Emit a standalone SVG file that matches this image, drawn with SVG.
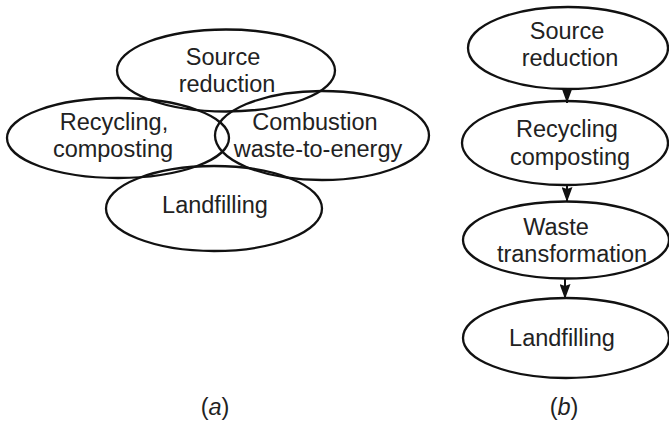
<svg xmlns="http://www.w3.org/2000/svg" width="669" height="424" viewBox="0 0 669 424">
<defs>
<style>
.n{fill:none;stroke:#111;stroke-width:2.3}
.t{font-family:"Liberation Sans",Arial,sans-serif;font-size:23.5px;fill:#222;text-anchor:middle}
.c{stroke:#111;stroke-width:2;fill:none}
</style>
<marker id="ah" markerWidth="15" markerHeight="11" refX="15" refY="5.5" orient="auto" markerUnits="userSpaceOnUse" viewBox="0 0 15 11">
<path d="M0,0 L15,5.5 L0,11 L2,5.5 Z" fill="#111"/>
</marker>
</defs>
<rect width="669" height="424" fill="#fff"/>
<!-- (a) -->
<g id="a-source">
<ellipse class="n" cx="226" cy="70.5" rx="109" ry="41"/>
<text class="t" x="223" y="65">Source</text>
<text class="t" x="227" y="92">reduction</text>
</g>
<g id="a-recycling">
<ellipse class="n" cx="118" cy="138" rx="111" ry="40"/>
<text class="t" x="114" y="130">Recycling,</text>
<text class="t" x="113" y="157">composting</text>
</g>
<g id="a-combustion">
<ellipse class="n" cx="322" cy="135.5" rx="107" ry="44.5"/>
<text class="t" x="315" y="130">Combustion</text>
<text class="t" x="318" y="157">waste-to-energy</text>
</g>
<g id="a-landfilling">
<ellipse class="n" cx="214" cy="208.5" rx="108" ry="42.5"/>
<text class="t" x="215" y="213">Landfilling</text>
</g>
<text class="t" x="215" y="415">(<tspan font-style="italic">a</tspan>)</text>
<!-- (b) -->
<g id="b-source">
<ellipse class="n" cx="568" cy="48" rx="100" ry="41"/>
<text class="t" x="567" y="39">Source</text>
<text class="t" x="570" y="66">reduction</text>
</g>
<g id="b-recycling">
<ellipse class="n" cx="565" cy="143" rx="103" ry="42"/>
<text class="t" x="567" y="137">Recycling</text>
<text class="t" x="570" y="165">composting</text>
</g>
<g id="b-waste">
<ellipse class="n" cx="566" cy="240" rx="103" ry="38.5"/>
<text class="t" x="556" y="235">Waste</text>
<text class="t" x="572" y="262">transformation</text>
</g>
<g id="b-landfilling">
<ellipse class="n" cx="566" cy="338" rx="103" ry="40"/>
<text class="t" x="562" y="346">Landfilling</text>
</g>
<text class="t" x="564" y="415">(<tspan font-style="italic">b</tspan>)</text>
<g id="connectors">
<line class="c" x1="567" y1="89" x2="567" y2="103" marker-end="url(#ah)"/>
<line class="c" x1="567" y1="185" x2="567" y2="202" marker-end="url(#ah)"/>
<line class="c" x1="565" y1="278" x2="565" y2="299" marker-end="url(#ah)"/>
</g>
</svg>
